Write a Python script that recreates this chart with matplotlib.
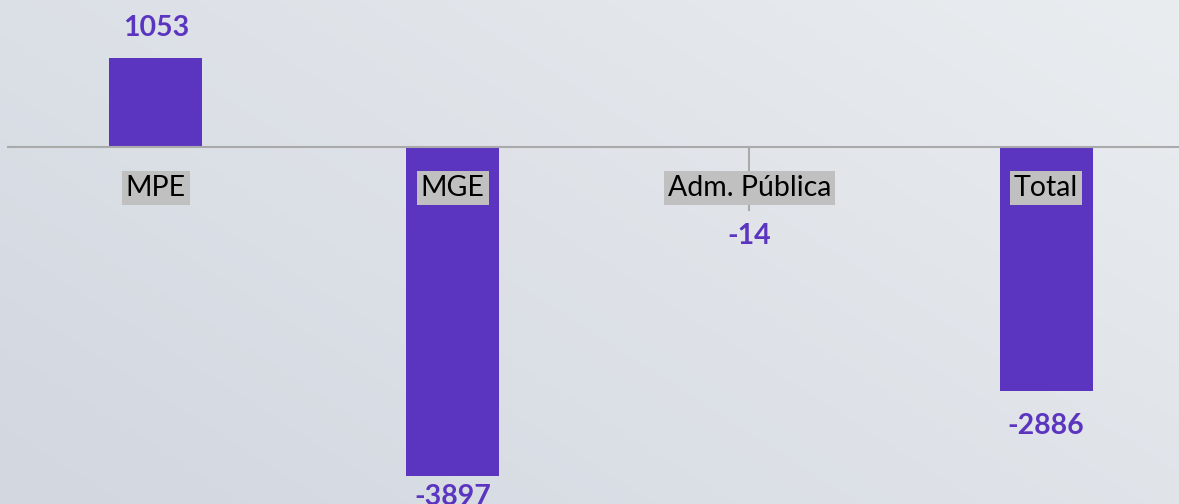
import matplotlib
matplotlib.use("Agg")
import matplotlib.pyplot as plt
import numpy as np

categories = ["MPE", "MGE", "Adm. Pública", "Total"]
values = [1053, -3897, -14, -2886]
# vertical offsets (pixels) of the value labels from the bar end
label_offsets_px = [30, 21, 88, 35]

W, H = 1179, 504
fig = plt.figure(figsize=(W / 100, H / 100), dpi=100)

# background gradient (darker bottom-left, lighter top-right)
bg = fig.add_axes([0, 0, 1, 1])
yy, xx = np.mgrid[0:1:200j, 0:1:400j]
t = (xx * 0.6 + yy * 0.4)
c0 = np.array([0xd2, 0xd7, 0xe0]) / 255
c1 = np.array([0xea, 0xed, 0xf0]) / 255
img = c0[None, None, :] * (1 - t[..., None]) + c1[None, None, :] * t[..., None]
bg.imshow(img, aspect="auto", origin="lower", extent=[0, 1, 0, 1])
bg.axis("off")

zero_px = 147
scale = 0.0844  # px per unit
ax = fig.add_axes([7.5 / W, 0, 1187 / W, 1])
ax.set_xlim(-0.5, 3.5)
ax.set_ylim(-(H - zero_px) / scale, zero_px / scale)
ax.patch.set_alpha(0)
for s in ax.spines.values():
    s.set_visible(False)
ax.set_xticks([])
ax.set_yticks([])

purple = "#5b35bf"
x = np.arange(len(categories))
ax.bar(x, values, width=0.313, color=purple, zorder=2)
ax.axhline(0, color="#aaaaaa", lw=1.5, zorder=3)
# tick mark at middle
ax.plot([2, 2], [0, -63 / scale], color="#aaaaaa", lw=1.5, zorder=1)

font = "Lato"
for i, (c, v) in enumerate(zip(categories, values)):
    ax.text(i, -41 / scale, c, ha="center", va="center", fontsize=20.5,
            family=font, color="black", zorder=5,
            bbox=dict(boxstyle="square,pad=0.14", fc="#c0c0c0", ec="none"))
    off = label_offsets_px[i] / scale
    ypos = v + off if v > 0 else v - off
    ax.text(i, ypos, f"{v}", ha="center", va="center", fontsize=20.5,
            family=font, fontweight="bold", color=purple, zorder=5)

fig.savefig("out.png", dpi=100)
